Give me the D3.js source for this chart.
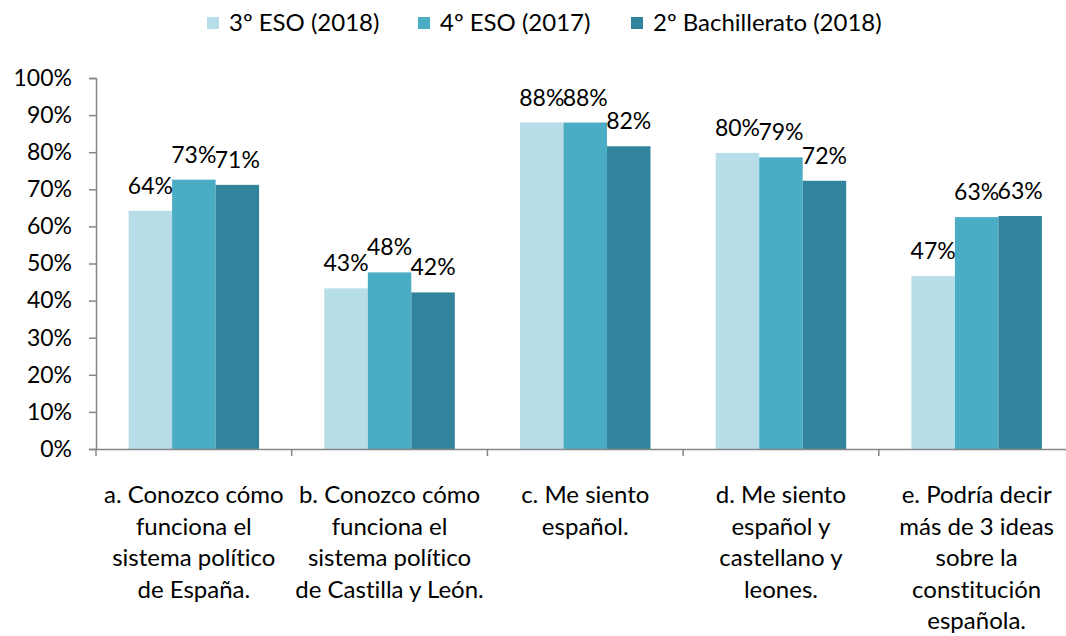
<!DOCTYPE html>
<html>
<head>
<meta charset="utf-8">
<script src="https://cdn.jsdelivr.net/npm/d3@7"></script>
<style>
  html, body { margin: 0; padding: 0; background: #fff; }
  svg { display: block; font-family: Lato, "Open Sans", sans-serif; font-variant-ligatures: none; }
</style>
</head>
<body>
<svg id="chart" width="1066" height="636"></svg>
<script>
// Survey categories (wrapped axis labels, one entry per line)
const categories = ["a", "b", "c", "d", "e"];
const categoryLines = [
  ["a. Conozco cómo", "funciona el", "sistema político", "de España."],
  ["b. Conozco cómo", "funciona el", "sistema político", "de Castilla y León."],
  ["c. Me siento", "español."],
  ["d. Me siento", "español y", "castellano y", "leones."],
  ["e. Podría decir", "más de 3 ideas", "sobre la", "constitución", "española."]
];

// Series
const seriesNames = ["3º ESO (2018)", "4º ESO (2017)", "2º Bachillerato (2018)"];
const eso3 = [0.642, 0.433, 0.880, 0.798, 0.466];
const eso4 = [0.726, 0.476, 0.880, 0.786, 0.625];
const bach2 = [0.712, 0.422, 0.816, 0.723, 0.628];
const seriesColors = ["#B7DDE8", "#4BACC6", "#31849B"];

const yTicks = [0, 0.1, 0.2, 0.3, 0.4, 0.5, 0.6, 0.7, 0.8, 0.9, 1.0];

const seriesValues = [eso3, eso4, bach2];
const rows = categories.map((c, i) => ({
  cat: c,
  vals: seriesNames.map((s, j) => ({ series: s, idx: j, value: seriesValues[j][i] }))
}));

const svg = d3.select("#chart");
const axisColor = "#868686";

const plotLeft = 96, plotTop = 78, plotBottom = 449;
const bandW = 195.7;

const x0 = d3.scaleBand().domain(categories).range([plotLeft, plotLeft + bandW * categories.length]).padding(0);
const x1 = d3.scaleBand().domain(seriesNames).range([x0.bandwidth() / 6, x0.bandwidth() * 5 / 6]).padding(0);
const y = d3.scaleLinear().domain([0, 1]).range([plotBottom, plotTop]);
const color = d3.scaleOrdinal().domain(seriesNames).range(seriesColors);

// Y axis
const yAxis = svg.append("g")
  .attr("transform", `translate(${plotLeft},0)`)
  .call(d3.axisLeft(y).tickValues(yTicks).tickFormat(d3.format(".0%")).tickSize(7).tickPadding(17));
yAxis.selectAll("path, line").attr("stroke", axisColor).attr("stroke-width", 1.5);
yAxis.selectAll("text").attr("font-size", 23).attr("fill", "#000").attr("font-family", "Lato, sans-serif");

// Bars
const groups = svg.append("g").selectAll("g")
  .data(rows).join("g")
  .attr("transform", d => `translate(${x0(d.cat)},0)`);

groups.selectAll("rect")
  .data(d => d.vals).join("rect")
  .attr("x", d => x1(d.series))
  .attr("width", x1.bandwidth())
  .attr("y", d => y(d.value))
  .attr("height", d => y(0) - y(d.value))
  .attr("fill", d => color(d.series));

// Value labels
groups.selectAll("text.val")
  .data(d => d.vals).join("text")
  .attr("class", "val")
  .attr("x", d => x1(d.series) + x1.bandwidth() / 2)
  .attr("y", d => y(d.value) - 17)
  .attr("text-anchor", "middle")
  .attr("font-size", 23)
  .attr("fill", "#000")
  .text(d => d3.format(".0%")(d.value));

// X axis line with ticks at category boundaries
const xAxis = svg.append("g")
  .attr("transform", `translate(0,${plotBottom})`)
  .call(d3.axisBottom(x0).tickSize(0).tickFormat(""));
xAxis.select("path.domain").attr("stroke", axisColor).attr("stroke-width", 1.5);
const boundaries = categories.map(c => x0(c)).concat([x0.range()[1]]);
xAxis.selectAll("line.bound")
  .data(boundaries).join("line")
  .attr("class", "bound")
  .attr("x1", d => d).attr("x2", d => d)
  .attr("y1", 0).attr("y2", 7)
  .attr("stroke", axisColor).attr("stroke-width", 1.5);

// Category labels
const catLabels = svg.append("g").selectAll("text")
  .data(categories).join("text")
  .attr("x", c => x0(c) + x0.bandwidth() / 2)
  .attr("y", 503)
  .attr("text-anchor", "middle")
  .attr("font-size", 24)
  .attr("fill", "#000");
catLabels.selectAll("tspan")
  .data((c, i) => categoryLines[i].map(t => ({ t, x: x0(c) + x0.bandwidth() / 2 })))
  .join("tspan")
  .attr("x", d => d.x)
  .attr("dy", (d, i) => i === 0 ? 0 : 31.6)
  .text(d => d.t);

// Legend
const legendX = [207, 418, 631];
const legend = svg.append("g").selectAll("g")
  .data(seriesNames).join("g")
  .attr("transform", (d, i) => `translate(${legendX[i]},17)`);
legend.append("rect")
  .attr("width", 12).attr("height", 12)
  .attr("fill", d => color(d));
legend.append("text")
  .attr("x", 22).attr("y", 14)
  .attr("font-size", 24)
  .attr("fill", "#000")
  .text(d => d);
</script>
</body>
</html>
